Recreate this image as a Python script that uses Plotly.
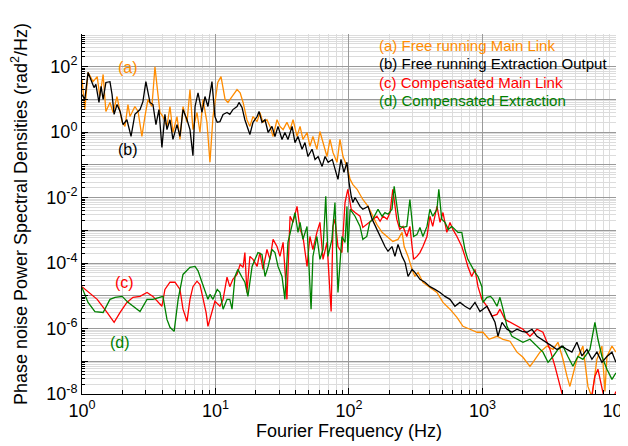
import plotly.graph_objects as go

# ---- data ----
freq_a = [1.00,1.05,1.11,1.21,1.30,1.36,1.44,1.51,1.62,1.71,1.83,2.0,2.10,2.21,2.29,2.49,2.63,2.81,2.96,3.12,3.34,3.52,3.65,3.84,4.04,4.33,4.56,4.80,5.15,5.42,5.71,6.12,6.44,6.78,7.27,7.65,8.06,8.63,9.09,9.58,10.4,11.0,11.8,12.4,13.3,14.5,15.3,16.1,17.2,18.1,19.1,20.5,21.5,22.7,24.3,25.6,27.0,28.9,30.4,32.1,34.3,36.2,38.1,40.8,43.0,45.2,48.5,51.0,53.7,57.5,60.6,63.9,68.4,72.1,75.9,81.3,85.6,90.2,96.6,102,107,115,127,139,151,162,177,193,213,233,250,259,277,297,312,329,358,404,456,506,571,644,714,806,910,1009,1119,1285,1425,1607,1813,2011,2268,2389,2697,3042,3376,3678,4009,4296,4519,5100,5657,6166,6607,7201,7850,8270,8560,9333,10000]
psd_a = [41,4.9,67,35,50,12.3,58,4.3,8.1,4.0,12.3,2.0,1.5,7.0,3.0,6.1,4.3,0.74,3.0,10,6.1,100,25,4.0,3.0,1.5,6.1,0.98,3.0,0.6,6.1,2.0,20,1.2,4.0,0.98,10,2.0,0.12,3.0,33,50,10,8.1,12.3,20,16,8.1,2.4,1.5,3.0,2.1,4.0,2.0,2.4,1.5,0.74,2.4,1.5,1.2,2.0,1.2,2.4,0.74,1.5,0.6,0.98,0.37,0.74,0.30,1.05,0.48,0.18,0.6,0.24,0.12,0.6,0.18,0.09,0.036,0.025,0.018,8.8e-3,5.4e-3,2.7e-3,1.5e-3,8.7e-4,6.5e-4,4.6e-4,5.3e-4,8.7e-4,3.2e-4,1.6e-4,6.4e-5,3.9e-5,5.2e-5,2.6e-5,1.8e-5,1.27e-5,6.3e-6,3.9e-6,2.2e-6,1.17e-6,9.5e-7,7.7e-7,7.7e-7,4.7e-7,5.8e-7,4.7e-7,4.1e-7,1.9e-7,1.32e-7,7e-8,9.3e-8,1.9e-7,2.9e-7,2.3e-7,3.8e-7,1.15e-7,3.5e-8,1.7e-8,1.15e-7,2.9e-7,1.7e-8,8e-9,1.15e-7,2.9e-7,1.2e-8,1.4e-7,2.9e-7,1.9e-7]

freq_b = [1.00,1.05,1.11,1.17,1.23,1.27,1.34,1.39,1.44,1.51,1.62,1.68,1.74,1.83,1.93,2.03,2.17,2.33,2.49,2.72,2.86,3.01,3.23,3.40,3.58,3.77,3.97,4.18,4.33,4.56,4.80,5.15,5.42,5.71,6.12,6.44,6.78,7.03,7.40,7.92,8.34,8.78,9.41,9.9,10.3,10.8,11.4,12.2,12.8,13.5,14.5,15.0,15.8,16.6,17.5,18.1,19.1,20.5,21.2,22.3,23.5,24.8,26.5,27.9,29.4,31.5,33.1,34.9,37.5,39.4,41.5,44.5,46.8,49.3,52.9,55.7,58.7,62.9,66.2,69.8,75,78.5,82.7,87.1,91.7,96.6,100,104,107,111,121,127,139,149,162,177,186,196,210,221,233,250,263,277,297,312,340,371,404,441,481,524,571,622,678,739,806,879,958,1009,1081,1178,1241,1307,1400,1527,1663,1813,1977,2155,2349,2561,2791,3042,3318,3615,3942,4296,4677,5100,5560,6062,6607,7201,7850,8560,9333,10000]
psd_b = [14,10,67,41,23,29,8.1,25,10,33,35,14,3.5,7,4.3,1.7,2.4,0.74,3.5,4.9,8.6,35,8.1,7,1.7,4.9,0.34,3.5,1.2,2.4,0.6,1.7,0.74,4.9,2.4,1.2,0.19,6.1,16,4.0,12.3,6.1,35,3.0,2.0,2.1,3.5,4.0,3.5,4.9,6.1,8.1,5.7,2.4,1.2,0.85,2.0,3.0,4.3,2.0,2.4,0.98,1.5,0.74,1.5,0.6,0.98,0.6,1.5,0.48,0.74,0.30,0.48,0.18,0.30,0.147,0.18,0.09,0.18,0.12,0.147,0.073,0.036,0.147,0.059,0.12,0.03,0.011,7.1e-3,0.0101,5.4e-3,4.4e-3,5.4e-3,2.2e-3,1.07e-3,4.6e-4,3.2e-4,2.3e-4,3.2e-4,1.6e-4,3.7e-4,1.6e-4,1.05e-4,3.9e-5,6.4e-5,5.2e-5,3.2e-5,2.6e-5,1.9e-5,1.57e-5,1.27e-5,9.6e-6,7.8e-6,4.8e-6,6.3e-6,4.8e-6,3.9e-6,6.3e-6,3.3e-6,3.9e-6,4.8e-6,2.4e-6,1.55e-6,5.8e-7,1.55e-6,9.5e-7,7.7e-7,9.5e-7,8.2e-7,7.7e-7,9.5e-7,5.8e-7,4.7e-7,3.8e-7,2.9e-7,2.3e-7,2.9e-7,2.3e-7,1.9e-7,3.8e-7,1.45e-7,2.3e-7,1.15e-7,1.9e-7,9.3e-8,1.4e-7,1.9e-7,9.3e-8]

freq_c = [1.00,1.30,1.54,1.74,1.93,2.17,2.41,2.72,3.07,3.40,3.97,4.18,4.56,4.97,5.42,5.71,6.12,6.44,6.78,7.27,7.65,8.06,8.5,8.78,9.41,9.9,10.8,11.4,12.2,12.8,13.5,14.5,15.3,16.1,16.6,17.2,18.1,19.1,20.5,21.5,22.7,24.3,25.6,27.0,28.9,30.4,32.1,34.3,36.2,38.1,40.8,43.0,45.2,48.5,51.0,53.7,57.5,60.6,63.9,68.4,73.5,75.9,78.5,82.7,88.5,93.4,98,104,111,121,127,136,143,151,162,171,180,193,203,213,228,240,254,271,286,297,305,323,340,358,384,404,424,456,481,506,541,571,600,644,700,739,777,830,879,926,990,1081,1178,1285,1352,1475,1607,1813,2011,2268,2561,2839,3205,3493,3808,4009,4519,5400,6384,6958,7327,7700,8128,9015,10000]
psd_c = [1.9e-5,7.8e-6,3.1e-6,1.55e-6,3.1e-6,6.3e-6,9.0e-6,9.6e-6,1.27e-5,9.6e-6,4.8e-6,1.57e-5,2.6e-5,2.6e-5,1.57e-5,3.9e-6,1.66e-6,7.8e-6,1.9e-5,2.8e-5,2.2e-5,7.8e-6,3.1e-6,1.17e-6,3.1e-6,6.8e-6,4.8e-6,7.8e-6,3.7e-5,1.9e-5,3.2e-5,4.5e-5,9.1e-5,7.4e-5,2.1e-4,1.27e-5,1.6e-4,1.3e-4,7.9e-5,2.1e-4,6.4e-5,2.6e-4,1.3e-4,5.3e-4,3.2e-4,1.6e-4,4.3e-4,7.8e-6,2.7e-3,1.75e-3,5.4e-3,1.07e-3,6.5e-4,7.9e-5,6.5e-4,2.6e-4,8.7e-4,1.75e-3,1.3e-4,4.3e-4,3.3e-6,1.32e-3,2.2e-3,3.2e-4,2.1e-4,7.1e-3,0.018,4.4e-3,3.5e-3,2.7e-3,1.23e-3,1.52e-3,1.75e-3,2.2e-3,2.7e-3,1.9e-3,2.7e-3,2.2e-3,3.5e-3,0.018,2.2e-3,1.07e-3,1.32e-3,6.5e-4,1.32e-3,3.2e-4,1.3e-4,1.6e-4,2.1e-4,3.2e-4,6.5e-4,2.7e-3,1.32e-3,5.4e-3,1.75e-3,3.5e-3,8.7e-4,1.75e-3,1.07e-3,6.5e-4,3.2e-4,1.6e-4,7.9e-5,3.9e-5,6.4e-5,1.9e-5,7.8e-6,4.8e-6,2.4e-6,2.7e-6,3.9e-6,1.9e-6,1.55e-6,1.17e-6,9.5e-7,5.8e-7,9.5e-7,7.7e-7,2.3e-7,7e-8,1.7e-8,8e-9,4e-9,3e-9,4e-9,3.5e-8,5.7e-8,2e-8,8e-9,4e-9,1.2e-8]

freq_d = [1.00,1.11,1.25,1.44,1.62,1.77,2.0,2.21,2.72,3.07,3.40,4.04,4.33,4.56,4.9,5.25,5.71,6.44,7.03,7.40,7.92,8.34,8.78,9.09,9.58,10.3,10.8,11.4,12.2,12.8,13.3,14.0,14.7,15.8,16.6,17.5,18.8,19.8,20.8,22.3,23.5,24.8,26.5,27.9,29.4,31.5,33.1,34.9,37.5,39.4,41.5,43.0,45.2,48.5,52,53.7,57.5,60.6,63.9,67.0,69.6,74.5,78.5,82.7,88.5,93.4,96.6,98,102,111,121,127,136,143,151,165,177,186,196,210,218,228,240,254,271,286,305,323,340,358,384,404,424,456,471,495,524,555,589,622,655,700,739,777,830,879,926,990,1009,1081,1150,1203,1285,1352,1425,1527,1663,1813,2011,2268,2561,2839,3097,3376,3678,4009,4366,4759,5188,5657,6384,6723,6958,7327,7850,8560,9333,10000]
psd_d = [1.8e-5,6.3e-6,3.3e-6,3.1e-6,7.8e-6,9.0e-6,9.6e-6,6.3e-6,3.3e-6,7.8e-6,7.8e-6,9.6e-6,1.9e-6,1.09e-6,8.2e-7,7.8e-6,4.5e-5,7.4e-5,7.9e-5,5.8e-5,2.6e-5,1.4e-5,7.8e-6,1.1e-5,7.8e-6,1.57e-5,1.27e-5,3.9e-6,7.8e-6,7.8e-6,3.9e-6,3.9e-5,6.4e-5,3.7e-5,2.6e-5,9.6e-6,7.9e-5,1.3e-4,2.1e-4,1.85e-4,3.9e-5,7.9e-5,2.6e-4,2.1e-4,7.9e-5,3.9e-5,7.8e-6,4.3e-4,1.32e-3,3.5e-3,8.7e-4,1.75e-3,5.3e-4,1.32e-3,3.9e-6,1.6e-4,6.5e-4,1.3e-4,2.6e-4,0.011,1.6e-4,5.3e-4,7.1e-3,1.27e-5,6.5e-4,4.3e-4,5.4e-3,2.1e-4,4.4e-3,2.7e-3,1.32e-3,5.3e-4,6.5e-4,1.75e-3,2.2e-3,4.4e-3,2.7e-3,3.5e-3,3.1e-3,4.4e-3,0.022,5.4e-3,1.32e-3,1.23e-3,1.32e-3,8.8e-3,6.5e-4,7.4e-4,1.23e-3,6.5e-4,1.32e-3,4.4e-3,2.7e-3,4.4e-3,0.018,2.2e-3,1.75e-3,1.07e-3,1.32e-3,1.07e-3,8.7e-4,8.7e-4,2.6e-4,1.3e-4,7.9e-5,5.2e-5,3.9e-5,1.9e-5,6.3e-6,9e-6,9.6e-6,7.8e-6,4.8e-6,9e-6,3.9e-6,1.17e-6,5.8e-7,4.7e-7,3.8e-7,4.7e-7,2.9e-7,1.9e-7,9.3e-8,1.4e-7,2.3e-7,2.9e-7,1.4e-7,7e-8,1.4e-7,1.15e-7,2.3e-7,7.7e-7,1.55e-6,4.7e-7,1.4e-7,5.7e-8,2.8e-8,4.4e-8]

series_names = ["(a) Free running Main Link", "(b) Free running Extraction Output",
                "(c) Compensated Main Link", "(d) Compensated Extraction"]
colors = {"a": "#FF8C00", "b": "#000000", "c": "#FF0000", "d": "#008000"}

x_tick_vals = [1, 10, 100, 1000, 10000]
x_tick_text = ["10<sup>0</sup>", "10<sup>1</sup>", "10<sup>2</sup>", "10<sup>3</sup>", "10<sup>4</sup>"]
y_tick_vals = [1e-8, 1e-7, 1e-6, 1e-5, 1e-4, 1e-3, 1e-2, 1e-1, 1, 10, 100, 1000]
y_tick_text = ["10<sup>-8</sup>", "", "10<sup>-6</sup>", "", "10<sup>-4</sup>", "", "10<sup>-2</sup>", "",
               "10<sup>0</sup>", "", "10<sup>2</sup>", ""]

FONT = "Liberation Sans, Arial, sans-serif"

fig = go.Figure()
for key, fx, py in [("a", freq_a, psd_a), ("c", freq_c, psd_c), ("d", freq_d, psd_d), ("b", freq_b, psd_b)]:
    fig.add_trace(go.Scatter(x=fx, y=py, mode="lines", line=dict(color=colors[key], width=1.3),
                             showlegend=False, hoverinfo="skip"))

minor_x = [m * 10 ** e for e in range(0, 4) for m in range(2, 10)]
minor_y = [m * 10.0 ** e for e in range(-8, 3) for m in range(2, 10)]

fig.update_xaxes(type="log", range=[0, 4.0003], tickvals=x_tick_vals, ticktext=x_tick_text,
                 automargin=False, ticklabeloverflow="allow",
                 showline=True, linecolor="black", linewidth=1, ticks="inside", ticklen=6,
                 tickcolor="black", showgrid=True, gridcolor="#9a9a9a", gridwidth=1,
                 tickfont=dict(family=FONT, size=18, color="black"),
                 title=dict(text="Fourier Frequency (Hz)", font=dict(family=FONT, size=18, color="black"), standoff=0),
                 minor=dict(tickvals=minor_x, ticks="inside", ticklen=4, tickcolor="black",
                            showgrid=True, gridcolor="#dcdcdc", gridwidth=1),
                 zeroline=False)
fig.update_yaxes(type="log", range=[-8.0003, 3], tickvals=y_tick_vals, ticktext=y_tick_text,
                 automargin=False, ticklabeloverflow="allow",
                 showline=True, linecolor="black", linewidth=1, ticks="inside", ticklen=6,
                 tickcolor="black", showgrid=True, gridcolor="#9a9a9a", gridwidth=1,
                 tickfont=dict(family=FONT, size=18, color="black"),
                 title=dict(text="Phase noise Power Spectral Densities (rad<sup>2</sup>/Hz)",
                            font=dict(family=FONT, size=18, color="black"), standoff=16),
                 minor=dict(tickvals=minor_y, ticks="inside", ticklen=3, tickcolor="black",
                            showgrid=True, gridcolor="#dcdcdc", gridwidth=1),
                 zeroline=False)

legend_y = [0.969, 0.917, 0.866, 0.814]
for name, key, yy in zip(series_names, ["a", "b", "c", "d"], legend_y):
    fig.add_annotation(text=name, xref="paper", yref="paper", x=0.552, y=yy, xanchor="left",
                       yanchor="middle", showarrow=False,
                       font=dict(family=FONT, size=15, color=colors[key]))

labels = [("(a)", "a", 0.086, 0.908), ("(b)", "b", 0.086, 0.678), ("(c)", "c", 0.079, 0.311), ("(d)", "d", 0.071, 0.142)]
for txt, key, xx, yy in labels:
    fig.add_annotation(text=txt, xref="paper", yref="paper", x=xx, y=yy, xanchor="center",
                       yanchor="middle", showarrow=False,
                       font=dict(family=FONT, size=16, color=colors[key]))

# the page body adds an 8px offset, so the figure is sized to fit the window
fig.update_layout(width=620, height=438, margin=dict(l=74, r=12, t=26, b=52),
                  plot_bgcolor="white", paper_bgcolor="white",
                  font=dict(family=FONT, color="black"))

fig.write_html("out.html")
